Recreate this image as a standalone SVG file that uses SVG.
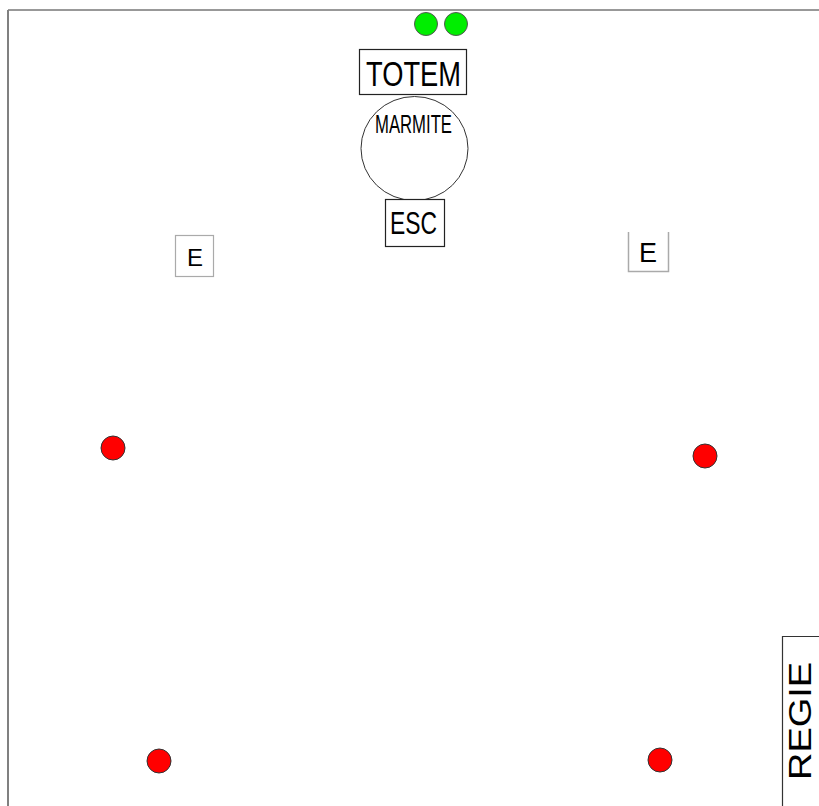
<svg xmlns="http://www.w3.org/2000/svg" width="819" height="806" viewBox="0 0 819 806">
<style>
  .box{fill:#fff;stroke:#222;stroke-width:1.2}
  .lbl{font-family:"Liberation Sans",Arial,sans-serif;fill:#000}
  .red{fill:#ff0000;stroke:#333;stroke-width:1}
  .green{fill:#00ee00;stroke:#555;stroke-width:1}
</style>
<rect width="819" height="806" fill="#fff"/>
<g id="frame">
  <line x1="8" y1="10" x2="819" y2="10" stroke="#333" stroke-width="1"/>
  <line x1="8" y1="10" x2="8" y2="806" stroke="#808080" stroke-width="2"/>
</g>
<g id="connectors"></g>
<g id="green1"><ellipse class="green" cx="426" cy="24" rx="11.5" ry="11.5"/></g>
<g id="green2"><ellipse class="green" cx="456" cy="24" rx="11.5" ry="11.5"/></g>
<g id="totem">
  <rect class="box" x="359.5" y="49.5" width="107" height="45"/>
  <text class="lbl" x="366" y="86" font-size="35" textLength="95" lengthAdjust="spacingAndGlyphs">TOTEM</text>
</g>
<g id="marmite">
  <ellipse cx="414.5" cy="148.5" rx="53.5" ry="52" fill="#fff" stroke="#333" stroke-width="1"/>
  <text class="lbl" x="375" y="133" font-size="25" textLength="77" lengthAdjust="spacingAndGlyphs">MARMITE</text>
</g>
<g id="esc">
  <rect class="box" x="385.5" y="199.5" width="59" height="47"/>
  <text class="lbl" x="390" y="234" font-size="31" textLength="47" lengthAdjust="spacingAndGlyphs">ESC</text>
</g>
<g id="e-left">
  <rect x="175.5" y="235.5" width="38" height="41" fill="#fff" stroke="#aaa" stroke-width="1.2"/>
  <text class="lbl" x="187" y="266" font-size="24" font-weight="300" textLength="16" lengthAdjust="spacingAndGlyphs">E</text>
</g>
<g id="e-right">
  <polyline points="628.5,232 628.5,271.5 668.5,271.5 668.5,232" fill="none" stroke="#aaa" stroke-width="1.5"/>
  <text class="lbl" x="639" y="262" font-size="28" textLength="18" lengthAdjust="spacingAndGlyphs">E</text>
</g>
<g id="red1"><circle class="red" cx="113" cy="448" r="12"/></g>
<g id="red2"><circle class="red" cx="705" cy="456" r="12"/></g>
<g id="red3"><circle class="red" cx="159" cy="761" r="12"/></g>
<g id="red4"><circle class="red" cx="660" cy="760" r="12"/></g>
<g id="regie">
  <polyline points="782.5,806 782.5,636.5 819,636.5" fill="none" stroke="#333" stroke-width="1.2"/>
  <text class="lbl" transform="translate(811,780) rotate(-90)" x="0" y="0" font-size="31" textLength="118" lengthAdjust="spacingAndGlyphs">REGIE</text>
</g>
</svg>
